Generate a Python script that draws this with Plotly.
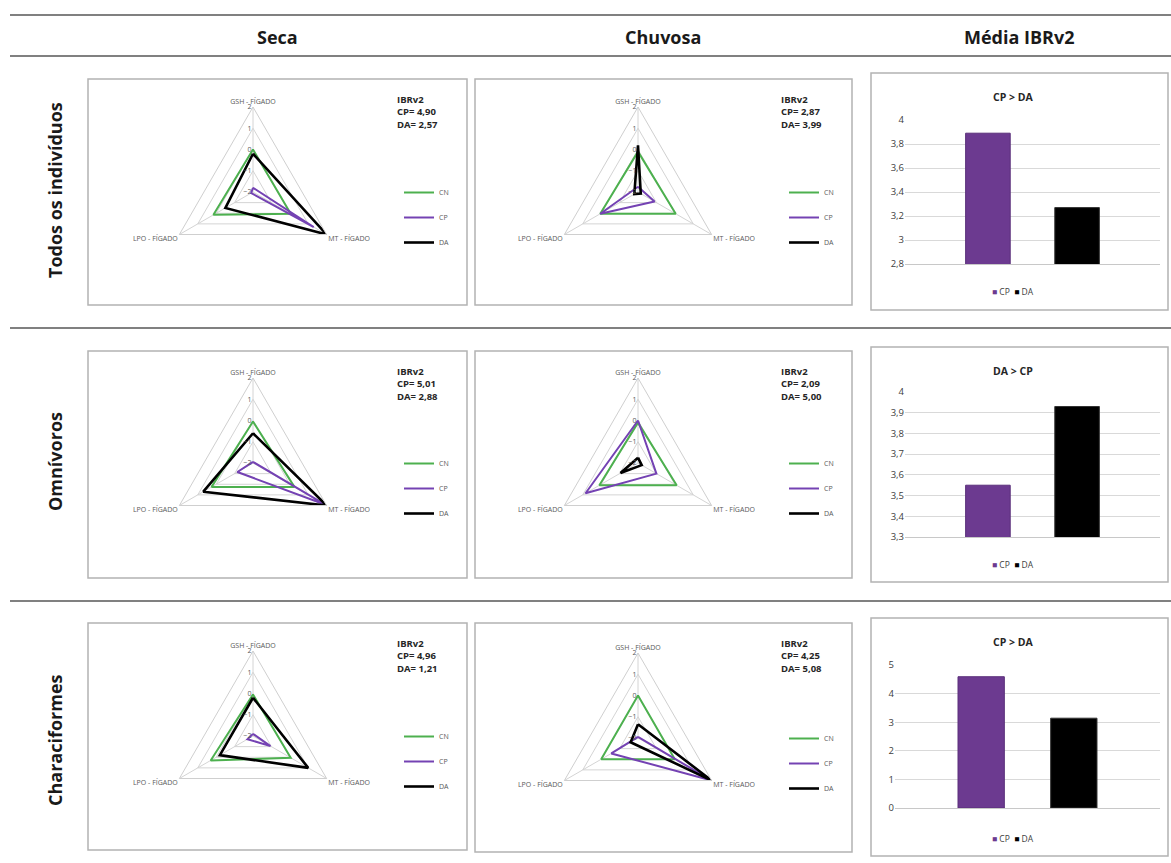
import plotly.graph_objects as go

W, H = 1171, 863

# ---------------- data ----------------
axes_labels = ["GSH - FÍGADO", "MT - FÍGADO", "LPO - FÍGADO"]
groups = ["CN", "CP", "DA"]
row_labels = ["Todos os indivíduos", "Omnívoros", "Characiformes"]
col_labels = ["Seca", "Chuvosa", "Média IBRv2"]

# radar values in order [GSH, MT, LPO]
todos_seca_cn = [0.0, 0.05, 0.15]
todos_seca_cp = [-1.8, 1.3, -1.9]
todos_seca_da = [-0.2, 2.0, -0.5]
todos_chuvosa_cn = [-0.1, 0.05, 0.05]
todos_chuvosa_cp = [-1.75, -1.1, 0.05]
todos_chuvosa_da = [0.2, -1.85, -1.8]
omni_seca_cn = [-0.05, 0.25, 0.25]
omni_seca_cp = [-1.95, 1.9, -1.15]
omni_seca_da = [-0.6, 2.0, 0.7]
omni_chuvosa_cn = [-0.1, 0.1, 0.1]
omni_chuvosa_cp = [0.0, -1.0, 0.85]
omni_chuvosa_da = [-1.75, -1.8, -1.05]
chara_seca_cn = [-0.05, 0.05, 0.3]
chara_seca_cp = [-1.9, -1.05, -1.7]
chara_seca_da = [-0.2, 1.0, -0.2]
chara_chuvosa_cn = [0.0, 0.0, 0.0]
chara_chuvosa_cp = [-1.95, 2.0, -0.55]
chara_chuvosa_da = [-1.35, 2.0, -1.6]

ibr_cp = [4.90, 2.87, 5.01, 2.09, 4.96, 4.25]
ibr_da = [2.57, 3.99, 2.88, 5.00, 1.21, 5.08]

media_cp = [3.89, 3.55, 4.59]
media_da = [3.27, 3.93, 3.14]
media_titles = ["CP > DA", "DA > CP", "CP > DA"]
media_ranges = [[2.8, 4], [3.3, 4], [0, 5]]
media_dticks = [0.2, 0.1, 1]

radar_panels = [
    [todos_seca_cn, todos_seca_cp, todos_seca_da],
    [todos_chuvosa_cn, todos_chuvosa_cp, todos_chuvosa_da],
    [omni_seca_cn, omni_seca_cp, omni_seca_da],
    [omni_chuvosa_cn, omni_chuvosa_cp, omni_chuvosa_da],
    [chara_seca_cn, chara_seca_cp, chara_seca_da],
    [chara_chuvosa_cn, chara_chuvosa_cp, chara_chuvosa_da],
]

# ---------------- style / layout geometry ----------------
GREEN = "#4DB04F"
PURPLE_LINE = "#7442B3"
PURPLE_BAR = "#6C3A90"
BLACK = "#000000"
line_styles = {"CN": (GREEN, 2), "CP": (PURPLE_LINE, 2), "DA": (BLACK, 2.6)}
GRAY_TXT = "#595959"

def px(x):
    return x / W

def py(y):
    return 1 - y / H

R = 85
radar_centers = [(253, 192), (638, 192), (253, 463), (638, 463), (253, 736), (638, 738)]
radar_boxes = [(88, 79, 467, 305), (475, 79, 852, 305),
               (88, 351, 467, 578), (475, 351, 852, 578),
               (88, 623, 467, 850), (475, 623, 852, 852)]
bar_boxes = [(871, 73, 1168, 310), (871, 347, 1168, 582), (871, 618, 1168, 856)]
bar_plot = [(905, 120, 1160, 264), (905, 392, 1160, 537), (895, 665, 1160, 808)]

fig = go.Figure()
layout_upd = {}
shapes = []
annotations = []

def legend_name(i):
    return "legend" if i == 0 else f"legend{i + 1}"

# ---------------- radar charts ----------------
for k, series in enumerate(radar_panels):
    cx, cy = radar_centers[k]
    pname = "polar" if k == 0 else f"polar{k + 1}"
    lname = legend_name(k)
    for g, vals in zip(groups, series):
        color, width = line_styles[g]
        fig.add_trace(go.Scatterpolar(
            r=list(vals) + [vals[0]],
            theta=axes_labels + [axes_labels[0]],
            mode="lines",
            line=dict(color=color, width=width),
            name=g,
            subplot=pname,
            legend=lname,
            legendgroup=f"p{k}{g}",
            showlegend=True,
            hoverinfo="skip",
        ))
    layout_upd[pname] = dict(
        domain=dict(x=[px(cx - R), px(cx + R)], y=[py(cy + R), py(cy - R)]),
        bgcolor="rgba(0,0,0,0)",
        gridshape="linear",
        radialaxis=dict(range=[-2, 2], dtick=1, angle=90, tickangle=90,
                        side="counterclockwise", showline=False,
                        gridcolor="#d4d4d4", gridwidth=1, ticks="",
                        tickfont=dict(size=7, color=GRAY_TXT)),
        angularaxis=dict(rotation=90, direction="clockwise",
                         categoryorder="array", categoryarray=axes_labels,
                         gridcolor="#d4d4d4", linecolor="#cfcfcf", linewidth=1,
                         ticks="", tickfont=dict(size=7, color=GRAY_TXT)),
    )
    lx = 399 if cx < 400 else 784
    layout_upd[lname] = dict(
        x=px(lx), y=py(cy - 14), xanchor="left", yanchor="top",
        orientation="v", bgcolor="rgba(0,0,0,0)", tracegroupgap=6,
        font=dict(size=7, color=GRAY_TXT), itemwidth=30,
    )
    bx0, by0, bx1, by1 = radar_boxes[k]
    shapes.append(dict(type="rect", xref="paper", yref="paper",
                       x0=px(bx0), x1=px(bx1), y0=py(by1), y1=py(by0),
                       line=dict(color="#b3b3b3", width=1.5)))
    ax = 395 if cx < 400 else 779
    annotations.append(dict(
        x=px(ax), y=py(by0 + 12), xref="paper", yref="paper",
        xanchor="left", yanchor="top", align="left", showarrow=False,
        text=("<b>IBRv2</b><br><b>CP= %s</b><br><b>DA= %s</b>" %
              (f"{ibr_cp[k]:.2f}".replace(".", ","), f"{ibr_da[k]:.2f}".replace(".", ","))),
        font=dict(size=9.5, color="#262626"),
    ))

# ---------------- bar charts ----------------
for i in range(3):
    xa = f"x{i + 1}" if i else "x"
    ya = f"y{i + 1}" if i else "y"
    fig.add_trace(go.Bar(x=["CP"], y=[media_cp[i]], width=0.5, name="CP",
                         marker=dict(color=PURPLE_BAR, line=dict(color="#5a2f7a", width=1)),
                         xaxis=xa, yaxis=ya, showlegend=False, hoverinfo="skip"))
    fig.add_trace(go.Bar(x=["DA"], y=[media_da[i]], width=0.5, name="DA",
                         marker=dict(color=BLACK, line=dict(color="#333333", width=1)),
                         xaxis=xa, yaxis=ya, showlegend=False, hoverinfo="skip"))
    x0, y0, x1, y1 = bar_plot[i]
    xkey = "xaxis" if i == 0 else f"xaxis{i + 1}"
    ykey = "yaxis" if i == 0 else f"yaxis{i + 1}"
    layout_upd[xkey] = dict(domain=[px(x0), px(x1)], anchor=ya, type="category",
                            categoryorder="array", categoryarray=["CP", "DA"],
                            range=[-0.93, 1.93], showticklabels=False, ticks="",
                            showgrid=False, zeroline=False, showline=True,
                            linecolor="#c8c8c8", linewidth=1, fixedrange=True,
                            automargin=False)
    layout_upd[ykey] = dict(domain=[py(y1), py(y0)], anchor=xa,
                            range=media_ranges[i], dtick=media_dticks[i],
                            gridcolor="#d9d9d9", gridwidth=1, zeroline=False,
                            showline=False, ticks="", fixedrange=True,
                            automargin=False,
                            tickfont=dict(size=9.5, color="#404040"))
    bx0, by0, bx1, by1 = bar_boxes[i]
    shapes.append(dict(type="rect", xref="paper", yref="paper",
                       x0=px(bx0), x1=px(bx1), y0=py(by1), y1=py(by0),
                       line=dict(color="#b3b3b3", width=1.5)))
    annotations.append(dict(x=px(1013), y=py(by0 + 24), xref="paper", yref="paper",
                            xanchor="center", yanchor="middle",
                            showarrow=False, text=f"<b>{media_titles[i]}</b>",
                            font=dict(size=10.5, color="#262626")))
    # legend of the bar chart (Excel-style: coloured squares + series names)
    annotations.append(dict(x=px(1013), y=py(by1 - 18), xref="paper", yref="paper",
                            xanchor="center", yanchor="middle", showarrow=False,
                            text=(f"<span style='color:{PURPLE_BAR}'>■</span> CP  "
                                  f"<span style='color:{BLACK}'>■</span> DA"),
                            font=dict(size=8.5, color="#404040")))

# ---------------- table frame ----------------
for yline in [15, 56, 328, 601]:
    shapes.append(dict(type="line", xref="paper", yref="paper",
                       x0=px(10), x1=1, y0=py(yline), y1=py(yline),
                       line=dict(color="#808080", width=2)))

for label, xc in zip(col_labels, [277, 663, 1019]):
    annotations.append(dict(x=px(xc), y=py(37), xref="paper", yref="paper",
                            xanchor="center", yanchor="middle",
                            showarrow=False, text=f"<b>{label}</b>",
                            font=dict(size=18, color="#1a1a1a")))

for label, yc in zip(row_labels, [190, 462, 740]):
    annotations.append(dict(x=px(55), y=py(yc), xref="paper", yref="paper",
                            xanchor="center", yanchor="middle",
                            showarrow=False, text=f"<b>{label}</b>", textangle=-90,
                            font=dict(size=18, color="#1a1a1a")))

fig.update_layout(
    width=W, height=H, autosize=False,
    margin=dict(l=0, r=0, t=0, b=0, pad=0, autoexpand=False),
    paper_bgcolor="white", plot_bgcolor="white",
    font=dict(family="Open Sans", color=GRAY_TXT),
    separators=",.",
    barmode="overlay",
    showlegend=True,
    shapes=shapes,
    annotations=annotations,
    **layout_upd,
)

fig.write_html("out.html", config={"displayModeBar": False},
               post_script="document.body.style.margin='0px';")
